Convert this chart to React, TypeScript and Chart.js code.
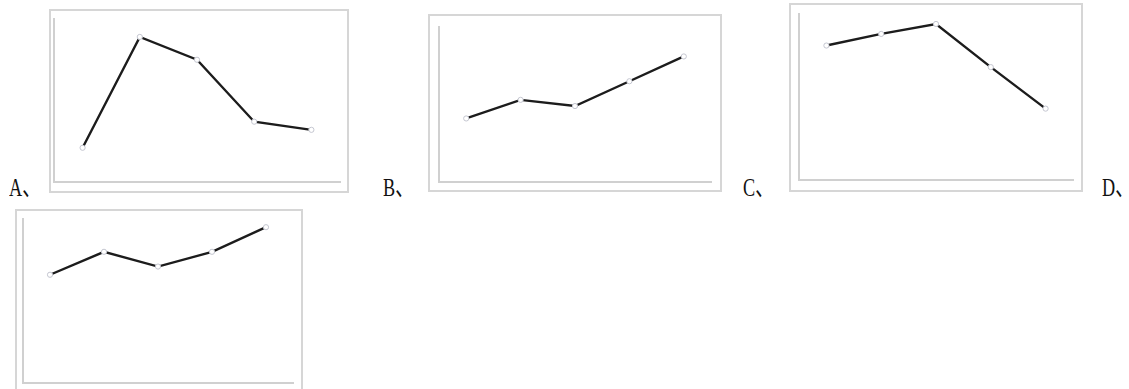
import React, { useEffect, useRef } from "react";
import { Chart, registerables } from "chart.js";

Chart.register(...registerables);

// ---- data ----
const categories = ["1", "2", "3", "4", "5"];
const seriesA = [2.1, 8.9, 7.5, 3.7, 3.2];
const seriesB = [4.1, 5.3, 4.9, 6.5, 8.1];
const seriesC = [8.1, 8.8, 9.4, 6.8, 4.3];
const seriesD = [6.6, 8.0, 7.1, 8.0, 9.5];
const optionLabels = ["A、", "B、", "C、", "D、"];
const yMin = 0;
const yMax = 10;

// ---- layout ----
type Box = { left: number; top: number; right: number; bottom: number };
const PAD = 6;

const panels: { values: number[]; frame: Box; axis: Box }[] = [
  { values: seriesA, frame: { left: 50, top: 10, right: 348, bottom: 192 }, axis: { left: 54, top: 19, right: 340, bottom: 182 } },
  { values: seriesB, frame: { left: 429, top: 15, right: 721, bottom: 191 }, axis: { left: 439, top: 27, right: 711, bottom: 182 } },
  { values: seriesC, frame: { left: 790, top: 4, right: 1082, bottom: 191 }, axis: { left: 799, top: 14, right: 1073, bottom: 180 } },
  { values: seriesD, frame: { left: 16, top: 210, right: 302, bottom: 390 }, axis: { left: 23, top: 219, right: 293, bottom: 383 } },
];

const labelX = [9, 383, 743, 1102];
const labelTop = 175;

function MiniLine({ values, frame, axis }: { values: number[]; frame: Box; axis: Box }) {
  const ref = useRef<HTMLCanvasElement | null>(null);
  useEffect(() => {
    if (!ref.current) return;
    const axisColor = "#d0d0d0";
    const chart = new Chart(ref.current, {
      type: "line",
      data: {
        labels: categories,
        datasets: [
          {
            data: values,
            borderColor: "#1c1c1c",
            borderWidth: 2.4,
            tension: 0,
            pointRadius: 2.6,
            pointBackgroundColor: "#ffffff",
            pointBorderColor: "#c4c6d0",
            pointBorderWidth: 1,
            clip: false as any,
          },
        ],
      },
      options: {
        animation: false,
        responsive: false,
        maintainAspectRatio: false,
        events: [],
        layout: { padding: PAD },
        plugins: { legend: { display: false }, tooltip: { enabled: false }, title: { display: false } },
        scales: {
          x: {
            type: "category",
            offset: true,
            grid: { display: false, drawTicks: false },
            ticks: { display: false },
            border: { display: true, color: axisColor, width: 2 },
          },
          y: {
            min: yMin,
            max: yMax,
            grid: { display: false, drawTicks: false },
            ticks: { display: false },
            border: { display: true, color: axisColor, width: 2 },
          },
        },
      },
    });
    return () => chart.destroy();
  }, [values]);

  const w = axis.right - axis.left + 2 * PAD;
  const h = axis.bottom - axis.top + 2 * PAD;
  return (
    <>
      <div
        style={{
          position: "absolute",
          left: frame.left - 1,
          top: frame.top - 1,
          width: frame.right - frame.left + 2,
          height: frame.bottom - frame.top + 2,
          border: "2px solid #d6d6d6",
          boxSizing: "border-box",
          background: "#ffffff",
        }}
      />
      <canvas
        ref={ref}
        width={w}
        height={h}
        style={{ position: "absolute", left: axis.left - PAD, top: axis.top - PAD, width: w, height: h }}
      />
    </>
  );
}

export default function App() {
  return (
    <div style={{ position: "absolute", left: 0, top: 0, width: 1129, height: 389, overflow: "hidden", background: "#ffffff" }}>
      {panels.map((p, i) => (
        <MiniLine key={i} values={p.values} frame={p.frame} axis={p.axis} />
      ))}
      {optionLabels.map((t, i) => (
        <span
          key={t}
          style={{
            position: "absolute",
            left: labelX[i],
            top: labelTop,
            fontFamily: '"Liberation Serif", "Noto Sans CJK SC", serif',
            fontSize: 26,
            lineHeight: "26px",
            color: "#111",
            whiteSpace: "nowrap",
            transform: "scaleX(0.7)",
            transformOrigin: "left top",
          }}
        >
          {t}
        </span>
      ))}
    </div>
  );
}
